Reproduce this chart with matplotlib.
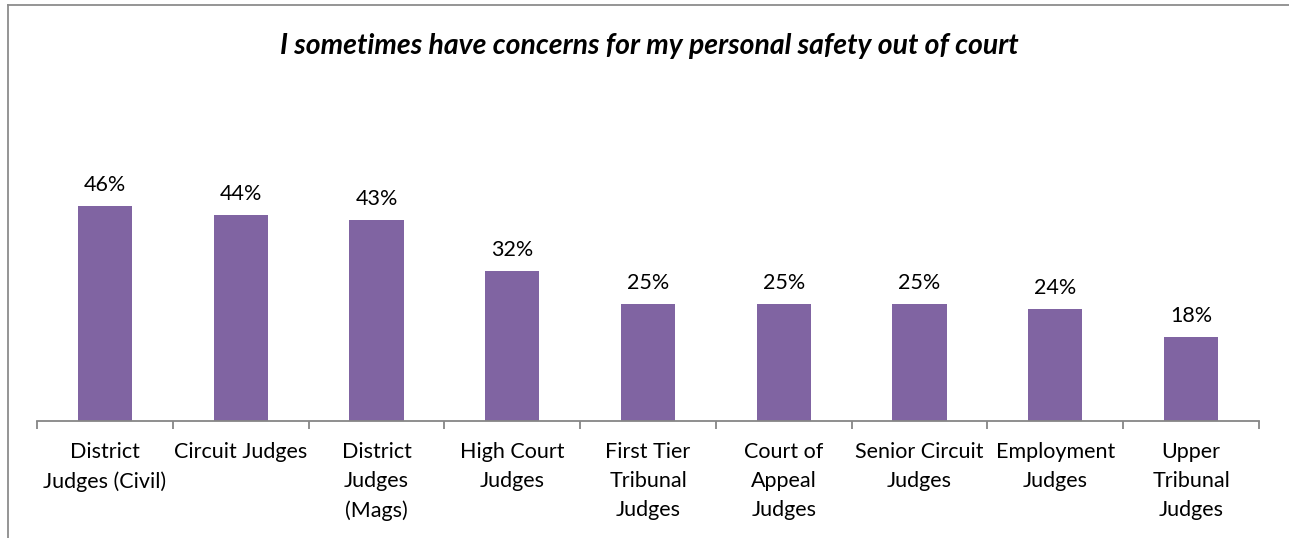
import matplotlib
matplotlib.use('Agg')
import matplotlib.pyplot as plt
from matplotlib.lines import Line2D

# Данные
categories = ['District\nJudges (Civil)', 'Circuit Judges', 'District\nJudges\n(Mags)',
              'High Court\nJudges', 'First Tier\nTribunal\nJudges', 'Court of\nAppeal\nJudges',
              'Senior Circuit\nJudges', 'Employment\nJudges', 'Upper\nTribunal\nJudges']
values = [46, 44, 43, 32, 25, 25, 25, 24, 18]
value_labels = ['46%', '44%', '43%', '32%', '25%', '25%', '25%', '24%', '18%']

plt.rcParams['font.family'] = ['Lato', 'DejaVu Sans']

W, H = 1289, 538
fig = plt.figure(figsize=(W / 100, H / 100), dpi=100)

# рамка вокруг диаграммы (обрезана справа и снизу)
frame_color = '#8c8c8c'
fig.add_artist(Line2D([8 / W, 8 / W], [0, 1 - 5 / H], color=frame_color, lw=1.3))
fig.add_artist(Line2D([8 / W, 1], [1 - 5 / H, 1 - 5 / H], color=frame_color, lw=1.3))

ax = fig.add_axes([37 / W, 117 / H, 1222 / W, 281 / H])
x = range(len(values))
ax.bar(x, values, width=0.4, color='#8064A2')

for i, v in enumerate(values):
    ax.text(i, v + 2.3, value_labels[i], ha='center', va='bottom', fontsize=15.5, color='black')

ax.set_xlim(-0.5, len(values) - 0.5)
ax.set_ylim(0, 60)

# деления на границах категорий
ax.set_xticks([i - 0.5 for i in range(len(values) + 1)])
ax.set_xticklabels([])
ax.tick_params(axis='x', which='major', length=6, width=1.3, color='#868686', direction='out')
ax.set_xticks(list(x), minor=True)
ax.set_xticklabels(categories, minor=True, fontsize=15.5, linespacing=1.58)
ax.tick_params(axis='x', which='minor', length=0, pad=15)
ax.set_yticks([])

for s in ['top', 'right', 'left']:
    ax.spines[s].set_visible(False)
ax.spines['bottom'].set_color('#868686')
ax.spines['bottom'].set_linewidth(1.3)

fig.text(649 / W, 1 - 46 / H, 'I sometimes have concerns for my personal safety out of court',
         ha='center', va='center', fontsize=20.4, fontweight='bold', fontstyle='italic')

fig.savefig('out.png', dpi=100)
